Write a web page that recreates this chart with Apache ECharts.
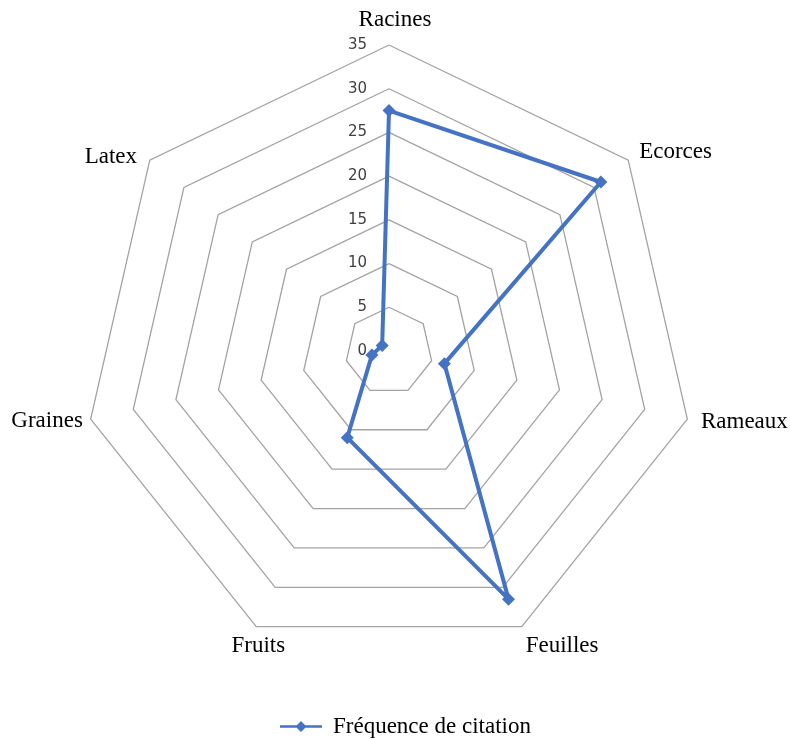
<!DOCTYPE html>
<html>
<head>
<meta charset="utf-8">
<script src="https://cdn.jsdelivr.net/npm/echarts@6/dist/echarts.min.js"></script>
<style>
html,body{margin:0;padding:0;background:#fff;}
#chart{width:790px;height:740px;}
</style>
</head>
<body>
<div id="chart"></div>
<script>
// Data (clockwise from top)
const categories = ['Racines', 'Ecorces', 'Rameaux', 'Feuilles', 'Fruits', 'Graines', 'Latex'];
const values = [27.5, 31, 6.5, 31.5, 11, 2, 1];
const seriesName = 'Fréquence de citation';
const axisMax = 35;
const axisStep = 5;

// Per-category name placement tweaks (style only)
const nameTweaks = {
  Racines: { nameTextStyle: { padding: [0, 0, 0, 12] } },
  Feuilles: { nameGap: 9, nameTextStyle: { verticalAlign: 'top' } },
  Fruits: { nameGap: 9, nameTextStyle: { align: 'center', verticalAlign: 'top', padding: [0, 0, 0, 12] } },
  Graines: { nameGap: 8 },
  Latex: { nameGap: 6, nameTextStyle: { padding: [0, 8, 0, 0] } }
};

// ECharts lays radar indicators counterclockwise; reorder to get clockwise layout
const order = [0].concat(categories.slice(1).map((_, i) => categories.length - 1 - i));
const indicators = order.map((idx, k) => {
  const name = categories[idx];
  const ind = Object.assign({ name: name, min: 0, max: axisMax }, nameTweaks[name] || {});
  if (k === 0) {
    ind.axisLabel = {
      show: true,
      fontFamily: 'DejaVu Sans',
      fontSize: 15,
      color: '#404040',
      margin: 22
    };
  }
  return ind;
});
const orderedValues = order.map(idx => values[idx]);

const chart = echarts.init(document.getElementById('chart'), null, { renderer: 'canvas' });
chart.setOption({
  animation: false,
  backgroundColor: '#fff',
  legend: {
    bottom: 2,
    left: 280,
    padding: 0,
    data: [seriesName],
    itemWidth: 42,
    itemHeight: 11,
    icon: 'path://M0,4.8 L42,4.8 L42,7.2 L0,7.2 Z M21,0.5 L26.5,6 L21,11.5 L15.5,6 Z',
    textStyle: { fontFamily: 'Liberation Serif', fontSize: 23, color: '#000', padding: [0, 0, 0, 6] }
  },
  radar: {
    center: [389, 351],
    radius: 306,
    startAngle: 90,
    splitNumber: axisMax / axisStep,
    shape: 'polygon',
    indicator: indicators,
    axisName: { fontFamily: 'Liberation Serif', fontSize: 23, color: '#000' },
    nameGap: 14,
    axisLine: { show: false },
    axisTick: { show: false },
    axisLabel: { show: false },
    splitArea: { show: false },
    splitLine: { lineStyle: { color: '#a3a3a3', width: 1.3 } }
  },
  series: [{
    type: 'radar',
    name: seriesName,
    symbol: 'diamond',
    symbolSize: 13,
    lineStyle: { color: '#4472C4', width: 4 },
    itemStyle: { color: '#4472C4' },
    data: [{ value: orderedValues, name: seriesName }]
  }]
});
</script>
</body>
</html>
